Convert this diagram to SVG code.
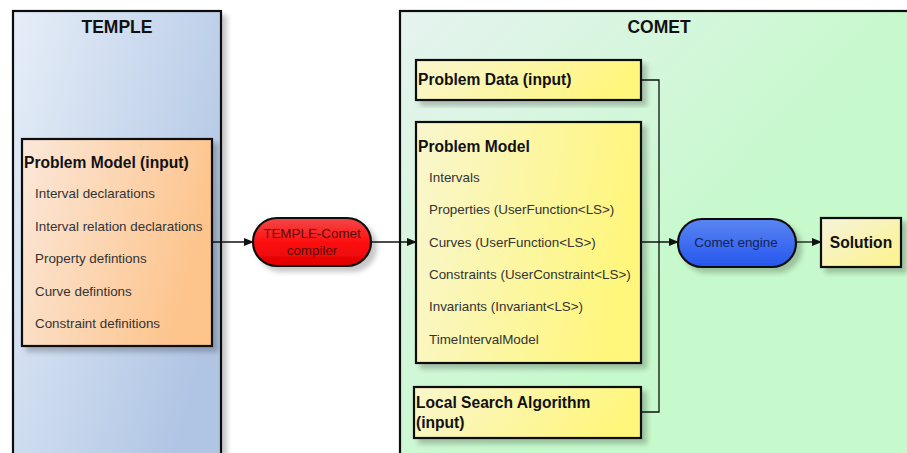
<svg xmlns="http://www.w3.org/2000/svg" width="907" height="453" viewBox="0 0 907 453">
<defs>
<linearGradient id="gTemple" x1="0" y1="0" x2="1" y2="0.6">
<stop offset="0" stop-color="#e6eef8"/><stop offset="1" stop-color="#b0c5e4"/>
</linearGradient>
<linearGradient id="gComet" x1="0" y1="0" x2="0.6" y2="0.5">
<stop offset="0" stop-color="#e6f3f0"/><stop offset="1" stop-color="#c6f9cb"/>
</linearGradient>
<linearGradient id="gOrange" x1="0" y1="0" x2="1" y2="0.3">
<stop offset="0" stop-color="#fbe8da"/><stop offset="1" stop-color="#fdc48c"/>
</linearGradient>
<linearGradient id="gYellow" x1="0" y1="0" x2="1" y2="0.2">
<stop offset="0" stop-color="#f9f6cf"/><stop offset="1" stop-color="#fff67c"/>
</linearGradient>
<linearGradient id="gSol" x1="0" y1="0" x2="1" y2="1">
<stop offset="0" stop-color="#f5f3dc"/><stop offset="1" stop-color="#fdf38a"/>
</linearGradient>
<linearGradient id="gRed" x1="0" y1="0" x2="0" y2="1">
<stop offset="0" stop-color="#f24848"/><stop offset="0.5" stop-color="#ff1010"/><stop offset="1" stop-color="#e00000"/>
</linearGradient>
<linearGradient id="gBlue" x1="0" y1="0" x2="0" y2="1">
<stop offset="0" stop-color="#5a86f2"/><stop offset="1" stop-color="#2456ee"/>
</linearGradient>
<filter id="sh" x="-10%" y="-10%" width="130%" height="130%">
<feGaussianBlur in="SourceAlpha" stdDeviation="2.5"/>
<feOffset dx="5" dy="5" result="b"/>
<feFlood flood-color="#000" flood-opacity="0.22"/>
<feComposite in2="b" operator="in"/>
<feMerge><feMergeNode/><feMergeNode in="SourceGraphic"/></feMerge>
</filter>
<marker id="arr" markerWidth="10" markerHeight="8" refX="9" refY="4" orient="auto" markerUnits="userSpaceOnUse">
<path d="M0,0 L10,4 L0,8 Z" fill="#111"/>
</marker>
</defs>
<style>
.box{stroke:#111;stroke-width:2.2}
.ttl{font-family:"Liberation Sans",Arial,sans-serif;font-weight:bold;font-size:17.5px;fill:#111;text-anchor:middle}
.hd{font-family:"Liberation Sans",Arial,sans-serif;font-weight:bold;font-size:15.6px;fill:#111}
.it{font-family:"Liberation Sans",Arial,sans-serif;font-size:13.4px;fill:#333}
.pl{font-family:"Liberation Sans",Arial,sans-serif;font-size:13.4px;text-anchor:middle}
.ln{fill:none;stroke:#111;stroke-width:1.3}
</style>
<rect width="907" height="453" fill="#fff"/>

<g id="temple">
<rect class="box" x="13" y="11" width="208" height="460" fill="url(#gTemple)" filter="url(#sh)"/>
<text class="ttl" x="117" y="33">TEMPLE</text>
</g>
<g id="comet">
<rect class="box" x="400" y="11" width="530" height="460" fill="url(#gComet)" filter="url(#sh)"/>
<text class="ttl" x="659" y="33">COMET</text>
</g>

<g id="temple-model">
<rect class="box" x="22" y="139" width="190" height="207" fill="url(#gOrange)" filter="url(#sh)"/>
<text class="hd" x="24" y="168">Problem Model (input)</text>
<text class="it" x="35" y="198">Interval declarations</text>
<text class="it" x="35" y="231">Interval relation declarations</text>
<text class="it" x="35" y="263">Property defintions</text>
<text class="it" x="35" y="296">Curve defintions</text>
<text class="it" x="35" y="328">Constraint definitions</text>
</g>

<g id="compiler">
<rect class="box" x="253" y="218" width="118" height="48" rx="24" fill="url(#gRed)" filter="url(#sh)"/>
<text class="pl" x="312" y="238" fill="#5a0a0a">TEMPLE-Comet</text>
<text class="pl" x="312" y="255" fill="#5a0a0a">compiler</text>
</g>

<g id="problem-data">
<rect class="box" x="416" y="60" width="225" height="40" fill="url(#gYellow)" filter="url(#sh)"/>
<text class="hd" x="418" y="85">Problem Data (input)</text>
</g>

<g id="comet-model">
<rect class="box" x="416" y="122" width="225" height="241" fill="url(#gYellow)" filter="url(#sh)"/>
<text class="hd" x="418" y="152">Problem Model</text>
<text class="it" x="429" y="182">Intervals</text>
<text class="it" x="429" y="214">Properties (UserFunction&lt;LS&gt;)</text>
<text class="it" x="429" y="247">Curves (UserFunction&lt;LS&gt;)</text>
<text class="it" x="429" y="279">Constraints (UserConstraint&lt;LS&gt;)</text>
<text class="it" x="429" y="311">Invariants (Invariant&lt;LS&gt;)</text>
<text class="it" x="429" y="344">TimeIntervalModel</text>
</g>

<g id="local-search">
<rect class="box" x="414" y="387" width="227" height="51" fill="url(#gYellow)" filter="url(#sh)"/>
<text class="hd" x="416" y="408">Local Search Algorithm</text>
<text class="hd" x="416" y="428">(input)</text>
</g>

<g id="engine">
<rect class="box" x="678" y="219" width="118" height="48" rx="24" fill="url(#gBlue)" filter="url(#sh)"/>
<text class="pl" x="736" y="247" fill="#14235a">Comet engine</text>
</g>

<g id="solution">
<rect class="box" x="821" y="218" width="80" height="49" fill="url(#gSol)" filter="url(#sh)"/>
<text class="hd" x="861" y="248" text-anchor="middle" font-size="17">Solution</text>
</g>

<g id="connectors">
<path class="ln" d="M212,242 L253,242" marker-end="url(#arr)"/>
<path class="ln" d="M371,242 L416,242" marker-end="url(#arr)"/>
<path class="ln" d="M641,80 L659,80 L659,412 L641,412"/>
<path class="ln" d="M641,242 L678,242" marker-end="url(#arr)"/>
<path class="ln" d="M796,242 L821,242" marker-end="url(#arr)"/>
</g>
</svg>
